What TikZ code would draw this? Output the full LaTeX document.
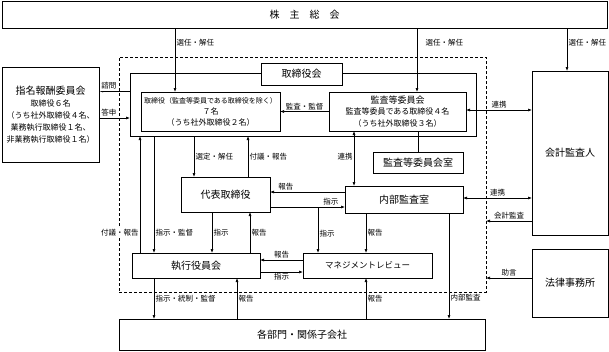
\documentclass[tikz,border=0pt]{standalone}
\usepackage{fontspec}
\setmainfont{Noto Sans CJK JP}
\usetikzlibrary{arrows.meta}

\begin{document}
\begin{tikzpicture}[x=1pt,y=-1pt,>={Latex[length=4pt,width=3pt]},line width=0.6pt,
box/.style={draw,inner sep=1pt,outer sep=0pt,align=center,font=\fontsize{10}{12}\selectfont},
lbl/.style={inner sep=1.2pt,font=\fontsize{7.5}{8}\selectfont},
lblw/.style={lbl,fill=white}]
\useasboundingbox (0,0) rectangle (609,351);
% 枠
\node[draw,dashed,dash pattern=on 3pt off 2pt,outer sep=0pt,minimum width=367pt,minimum height=235pt] (grp) at (302.5,174.5) {};
\node[box,minimum width=605pt,minimum height=27pt] (kabu) at (304.5,14.5) {株\quad 主\quad 総\quad 会};
\node[box,minimum width=346pt,minimum height=63pt] (bod) at (303,104.5) {};
\node[box,fill=white,minimum width=81pt,minimum height=22pt] (bodlbl) at (301.5,74) {取締役会};
\node[box,font=\fontsize{8}{11}\selectfont,minimum width=139pt,minimum height=39pt] (tori) at (210.5,111.5)
  {{\fontsize{7}{11}\selectfont 取締役（監査等委員である取締役を除く）}\\７名\\（うち社外取締役２名）};
\node[box,font=\fontsize{8}{11.5}\selectfont,minimum width=137pt,minimum height=39pt] (kansa) at (397.5,111.5)
  {{\fontsize{9}{11.5}\selectfont 監査等委員会}\\監査等委員である取締役４名\\（うち社外取締役３名）};
\node[box,minimum width=90pt,minimum height=21pt] (kansashitsu) at (418,162.5) {監査等委員会室};
\node[box,font=\fontsize{8}{12}\selectfont,minimum width=97pt,minimum height=95pt] (shimei) at (50.5,114.5)
  {{\fontsize{10}{12}\selectfont 指名報酬委員会}\\取締役６名\\（うち社外取締役４名、\\業務執行取締役１名、\\非業務執行取締役１名）};
\node[box,minimum width=76pt,minimum height=164pt] (kaikei) at (570,153) {会計監査人};
\node[box,minimum width=76pt,minimum height=68pt] (houritsu) at (570,283) {法律事務所};
\node[box,minimum width=89pt,minimum height=35pt] (daihyo) at (225.5,194.5) {代表取締役};
\node[box,minimum width=118pt,minimum height=27pt] (naibu) at (404,199.5) {内部監査室};
\node[box,minimum width=128pt,minimum height=25pt] (shikko) at (196,265.5) {執行役員会};
\node[box,font=\fontsize{8.5}{10}\selectfont,minimum width=129pt,minimum height=25pt] (mgmt) at (367.5,265.5) {マネジメントレビュー};
\node[box,minimum width=366pt,minimum height=31pt] (kakubu) at (302,334.5) {各部門・関係子会社};
% 株主総会から
\draw[->] (kabu.south -| 175,0) -- node[lbl,right,pos=0.23]{選任・解任} (tori.north -| 175,0);
\draw[->] (kabu.south -| 417,0) -- node[lbl,right,pos=0.23,xshift=7pt]{選任・解任} (kansa.north -| 417,0);
\draw[->] (kabu.south -| 567,0) -- node[lbl,right,pos=0.35]{選任・解任} (kaikei.north -| 567,0);
% 取締役会まわり
\draw[->] (kansa.west) -- node[lbl,above]{監査・監督} (tori.east);
\draw[<->] (kansa.east |- 0,110) -- node[lbl,above]{連携} (kaikei.west |- 0,110);
\draw (kansa.south -| kansashitsu.north) -- (kansashitsu.north);
\draw[->] (bod.west |- 0,91) -- node[lblw,above,pos=0.68]{諮問} (shimei.east |- 0,91);
\draw[->] (shimei.east |- 0,118) -- node[lblw,above,pos=0.32]{答申} (bod.west |- 0,118);
\draw[->] (shikko.north -| 140,0) -- node[lblw,left,pos=0.17]{付議・報告} (bod.south -| 140,0);
\draw[->] (bod.south -| 154,0) -- node[lbl,right,pos=0.83]{指示・監督} (shikko.north -| 154,0);
\draw[->] (bod.south -| 194,0) -- node[lbl,right]{選定・解任} (daihyo.north -| 194,0);
\draw[->] (daihyo.north -| 248,0) -- node[lbl,right]{付議・報告} (bod.south -| 248,0);
\draw[<->] (kansa.south -| 354,0) -- node[lbl,left,pos=0.47]{連携} (naibu.north -| 354,0);
% 代表取締役・内部監査室
\draw[->] (naibu.west |- 0,192) -- node[lbl,above,pos=0.79]{報告} (daihyo.east |- 0,192);
\draw[->] (daihyo.east |- 0,207) -- node[lbl,above,pos=0.81]{指示} (naibu.west |- 0,207);
\coordinate (br) at (318,207);
\draw[->] (br) -- node[lbl,right,pos=0.57]{指示} (mgmt.north -| br);
\draw[->] (naibu.south -| 366,0) -- node[lbl,right]{報告} (mgmt.north -| 366,0);
\draw[->] (naibu.south -| 449,0) -- node[lbl,right,pos=0.8]{内部監査} (kakubu.north -| 449,0);
\draw[->] (daihyo.south -| 212,0) -- node[lbl,right]{指示} (shikko.north -| 212,0);
\draw[->] (shikko.north -| 250,0) -- node[lbl,right]{報告} (daihyo.south -| 250,0);
% 執行役員会・マネジメントレビュー
\draw[->] (mgmt.west |- 0,260) -- node[lbl,above]{報告} (shikko.east |- 0,260);
\draw[->] (shikko.east |- 0,272) -- node[lbl,below]{指示} (mgmt.west |- 0,272);
\draw[->] (shikko.south -| 154,0) -- node[lbl,right]{指示・統制・監督} (kakubu.north -| 154,0);
\draw[->] (kakubu.north -| 237,0) -- node[lbl,right]{報告} (shikko.south -| 237,0);
\draw[->] (kakubu.north -| 366,0) -- node[lbl,right]{報告} (mgmt.south -| 366,0);
% 外部
\draw[<->] (naibu.east |- 0,198) -- node[lbl,above]{連携} (kaikei.west |- 0,198);
\draw[->] (kaikei.west |- 0,221) -- node[lbl,above]{会計監査} (grp.east |- 0,221);
\draw[->] (houritsu.west |- 0,278) -- node[lbl,above]{助言} (grp.east |- 0,278);
\end{tikzpicture}
\end{document}
